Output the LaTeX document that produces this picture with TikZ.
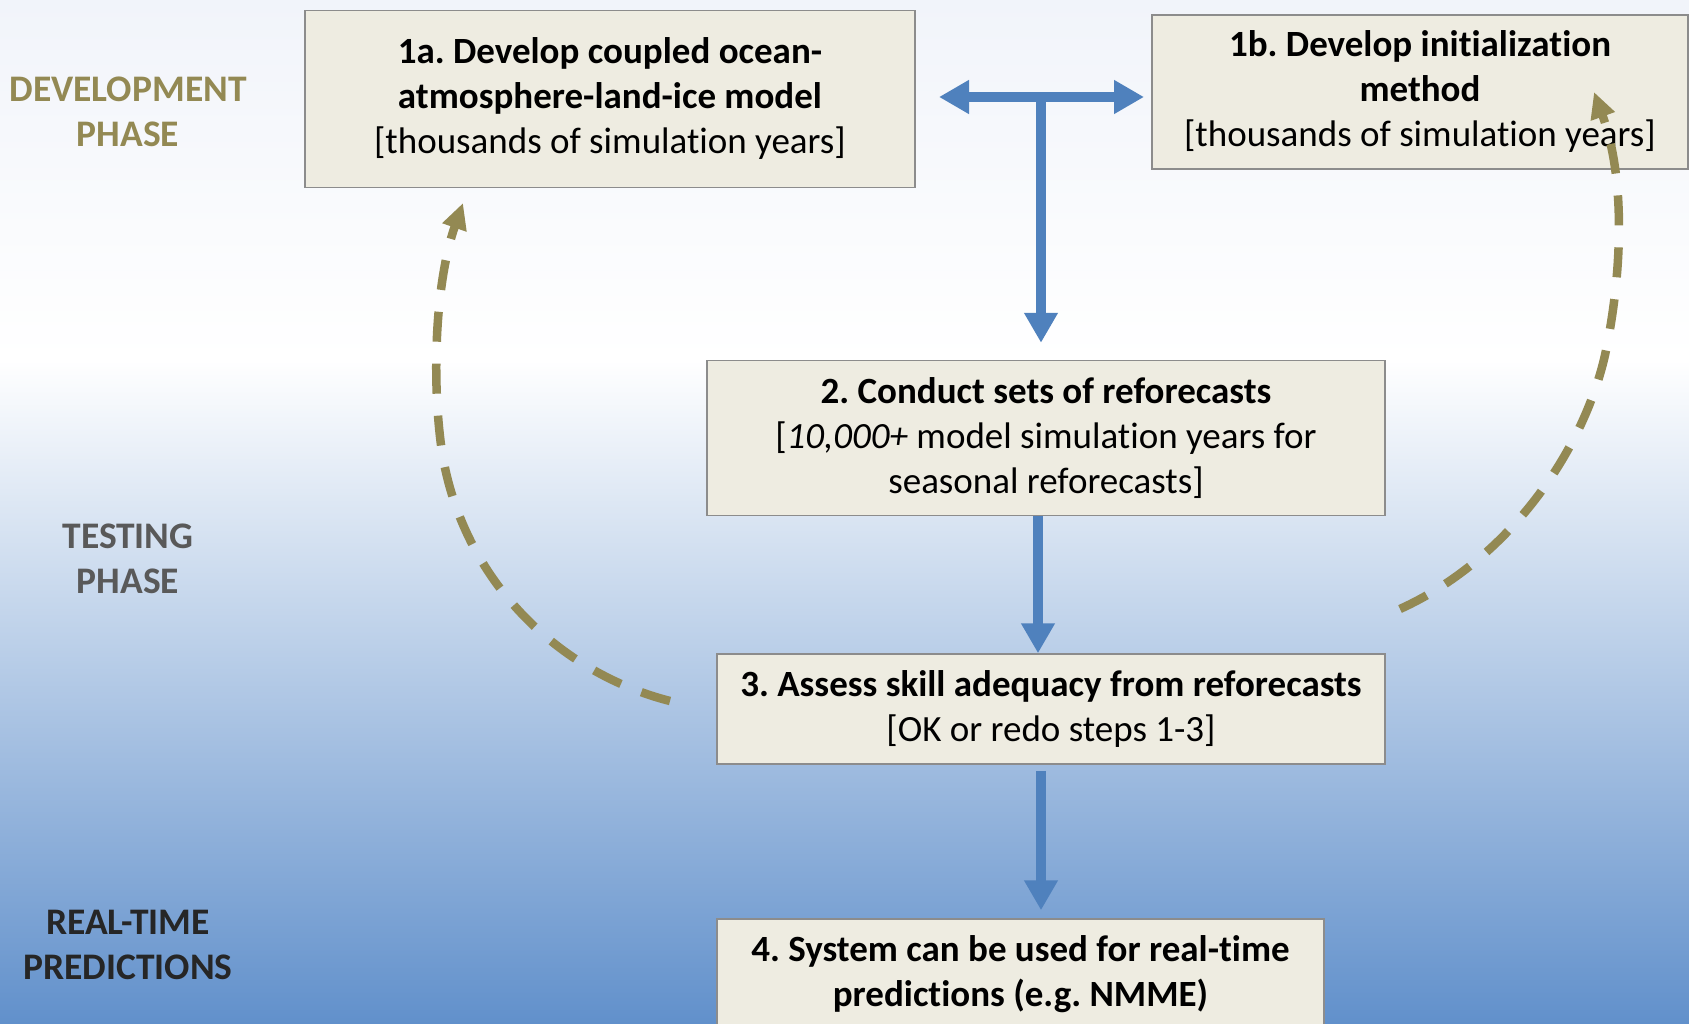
\documentclass[tikz,border=0pt]{standalone}
\usepackage{fontspec}
\setmainfont{Carlito}[Ligatures=NoCommon]
\frenchspacing
\usetikzlibrary{arrows.meta}
\definecolor{boxfill}{HTML}{EEECE1}
\definecolor{boxline}{HTML}{8C8C8C}
\definecolor{arrblue}{HTML}{4F81BD}
\definecolor{olive}{HTML}{938953}
\definecolor{labgray}{HTML}{595959}
\definecolor{labdark}{HTML}{262626}
\definecolor{bgtop}{HTML}{F1F4FA}
\definecolor{bgbot}{HTML}{6190CB}
\tikzset{
  stepbox/.style={draw=boxline, line width=1.5pt, fill=boxfill, align=center,
    inner sep=0pt, font=\fontsize{37}{45}\selectfont\frenchspacing},
  phase/.style={align=center, font=\fontsize{37.5}{45}\selectfont\bfseries},
  bluearrow/.style={draw=arrblue, line width=10pt,
    -{Triangle[width=32pt,length=30pt]}},
  bluedouble/.style={draw=arrblue, line width=10pt,
    {Triangle[width=32pt,length=30pt]}-{Triangle[width=32pt,length=30pt]}},
  dasharrow/.style={draw=olive, line width=8.5pt, dash pattern=on 30pt off 22pt,
    -{Triangle[width=24pt,length=26pt]}},
}
\begin{document}
\begin{tikzpicture}[x=1pt,y=-1pt]
\clip (0,0) rectangle (1689,1024);
\shade[top color=bgtop, bottom color=white] (0,0) rectangle (1689,360);
\shade[top color=white, bottom color=bgbot] (0,360) rectangle (1689,1024);

% phase labels
\node[phase, text=olive] (devphase) at (128,112) {DEVELOPMENT\\PHASE};
\node[phase, text=labgray] (testphase) at (128,559) {TESTING\\PHASE};
\node[phase, text=labdark] (rtphase) at (128,945) {REAL-TIME\\PREDICTIONS};

% boxes
\node[stepbox, minimum width=610pt, minimum height=177pt] (b1a) at (610,99)
  {\textbf{1a. Develop coupled ocean-}\\\textbf{atmosphere-land-ice model}\\{[}thousands of simulation years]};
\node[stepbox, minimum width=536pt, minimum height=154pt] (b1b) at (1420,92)
  {\textbf{1b. Develop initialization}\\\textbf{method}\\{[}thousands of simulation years]};
\node[stepbox, minimum width=678pt, minimum height=155pt] (b2) at (1046,438)
  {\textbf{2. Conduct sets of reforecasts}\\{[}\textit{10,000+} model simulation years for\\seasonal reforecasts]};
\node[stepbox, minimum width=668pt, minimum height=110pt] (b3) at (1051,709)
  {\textbf{3. Assess skill adequacy from reforecasts}\\{[}OK or redo steps 1-3]};
\node[stepbox, minimum width=607pt, minimum height=110pt] (b4) at (1020.5,974)
  {\textbf{4. System can be used for real-time}\\\textbf{predictions (e.g. NMME)}};

% T arrow
\coordinate (tl) at (939,97);
\coordinate (tr) at (1144,97);
\coordinate (tj) at (1041,97);
\draw[bluedouble] (tl) -- (tr);
\draw[bluearrow, shorten >=17pt] (tj) -- (tj |- b2.north);

% vertical arrows
\draw[bluearrow] ([xshift=-8pt]b2.south) -- ([xshift=-8pt]b2.south |- b3.north);
\draw[bluearrow, shorten <=6pt, shorten >=8pt] ([xshift=-10pt]b3.south) -- ([xshift=-10pt]b3.south |- b4.north);

% dashed feedback arrows
\coordinate (ls) at (670,701);
\coordinate (lm) at (442,452);
\coordinate (le) at (463,203);
\draw[dasharrow] (ls) .. controls (560,673) and (463,582) .. (lm)
  .. controls (431,377) and (436,280) .. (le);
\coordinate (rs) at (1400,609);
\coordinate (rm) at (1605,355);
\coordinate (re) at (1594,92);
\draw[dasharrow] (rs) .. controls (1508,560) and (1583,452) .. (rm)
  .. controls (1621,280) and (1627,183) .. (re);
\end{tikzpicture}
\end{document}
